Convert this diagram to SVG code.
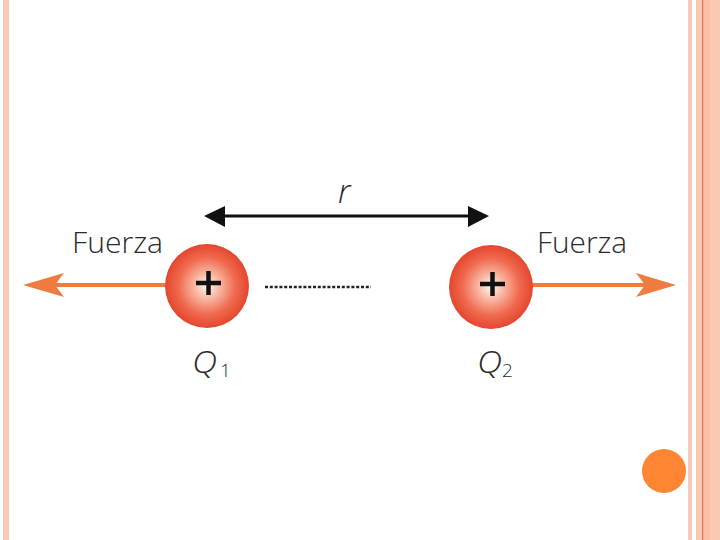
<svg xmlns="http://www.w3.org/2000/svg" width="720" height="540" viewBox="0 0 720 540">
  <defs>
    <radialGradient id="charge" cx="50%" cy="50%" r="50%">
      <stop offset="0%" stop-color="#fff6f2"/>
      <stop offset="30%" stop-color="#f9b7a3"/>
      <stop offset="68%" stop-color="#f06a4f"/>
      <stop offset="100%" stop-color="#e4462e"/>
    </radialGradient>
    <style>
      .lbl { font-family: "Open Sans", "Liberation Sans", sans-serif; font-weight: 300; fill: #2a2a2a; }
      .ital { font-family: "Open Sans", "Liberation Sans", sans-serif; font-weight: 300; font-style: italic; fill: #2a2a2a; }
      .force { stroke: #ee7b3f; stroke-width: 4; fill: none; }
      .head { fill: #ee7b3f; }
      .plus { stroke: #111; stroke-width: 4.5; }
    </style>
  </defs>
  <rect width="720" height="540" fill="#ffffff"/>
  <!-- page borders -->
  <rect x="3" y="0" width="6" height="540" fill="#f9c8b6"/>
  <rect x="688" y="0" width="4" height="540" fill="#f9c8b6"/>
  <rect x="696" y="0" width="24" height="540" fill="#fcc8b4"/>
  <rect x="703" y="0" width="7" height="540" fill="#fbbfa6"/>
  <rect x="702" y="0" width="1.2" height="540" fill="#d97a4e"/>
  <circle cx="664" cy="471" r="22" fill="#ff8533"/>

  <g id="connectors">
    <!-- distance arrow -->
    <line x1="220" y1="216" x2="472" y2="216" stroke="#111" stroke-width="3"/>
    <path d="M204,216 L225,206 L225,227 Z" fill="#111"/>
    <path d="M489,216 L468,206 L468,227 Z" fill="#111"/>
    <!-- dotted line -->
    <line x1="265" y1="287" x2="371" y2="287" stroke="#222" stroke-width="2.5" stroke-dasharray="3,1.8"/>
    <!-- force arrows -->
    <line class="force" x1="166" y1="285" x2="45" y2="285"/>
    <path class="head" d="M23,285 L64,273 L55,285 L64,297 Z"/>
    <line class="force" x1="532" y1="285" x2="655" y2="285"/>
    <path class="head" d="M676,285 L636,273 L645,285 L636,297 Z"/>
  </g>

  <g id="q1">
    <circle cx="207" cy="286" r="42" fill="url(#charge)"/>
    <line class="plus" x1="196" y1="283" x2="221" y2="283"/>
    <line class="plus" x1="208.5" y1="271" x2="208.5" y2="295"/>
    <text class="ital" x="192" y="373" font-size="32" textLength="25" lengthAdjust="spacingAndGlyphs">Q</text>
    <text class="lbl" x="220" y="377" font-size="19">1</text>
  </g>

  <g id="q2">
    <circle cx="491" cy="287" r="42" fill="url(#charge)"/>
    <line class="plus" x1="480" y1="284" x2="505" y2="284"/>
    <line class="plus" x1="492.5" y1="272" x2="492.5" y2="296"/>
    <text class="ital" x="477" y="373" font-size="32" textLength="25" lengthAdjust="spacingAndGlyphs">Q</text>
    <text class="lbl" x="502" y="377" font-size="19">2</text>
  </g>

  <g id="labels">
    <text class="lbl" x="72" y="253" font-size="29" textLength="91" lengthAdjust="spacingAndGlyphs">Fuerza</text>
    <text class="lbl" x="537" y="253" font-size="29" textLength="90" lengthAdjust="spacingAndGlyphs">Fuerza</text>
    <text class="ital" x="338" y="203" font-size="33">r</text>
  </g>
</svg>
